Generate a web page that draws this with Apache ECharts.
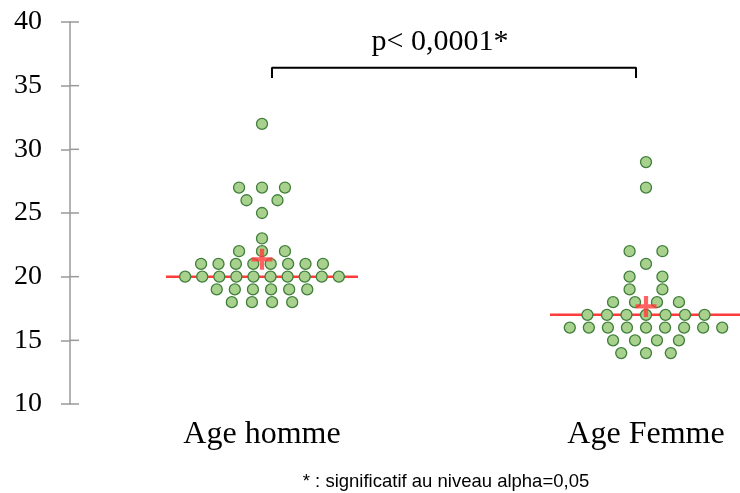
<!DOCTYPE html>
<html>
<head>
<meta charset="utf-8">
<script src="https://cdn.jsdelivr.net/npm/echarts@6/dist/echarts.min.js"></script>
<style>html,body{margin:0;padding:0;background:#fff}#c{width:740px;height:493px}</style>
</head>
<body>
<div id="c"></div>
<script>
// ---- data ----
const categories = ['Age homme', 'Age Femme'];
const ageHomme = [32, 27, 27, 27, 26, 26, 25, 23, 22, 22, 22,
  21, 21, 21, 21, 21, 21, 21, 21,
  20, 20, 20, 20, 20, 20, 20, 20, 20, 20,
  19, 19, 19, 19, 19, 19,
  18, 18, 18, 18];
const ageFemme = [29, 27, 22, 22, 21, 20, 20, 19, 19,
  18, 18, 18, 18,
  17, 17, 17, 17, 17, 17, 17,
  16, 16, 16, 16, 16, 16, 16, 16, 16,
  15, 15, 15, 15,
  14, 14, 14];
const yTicks = [10, 15, 20, 25, 30, 35, 40];
const pText = 'p< 0,0001*';
const footnote = '* : significatif au niveau alpha=0,05';

// ---- layout helpers ----
const gridLeft = 70, gridWidth = 670;
const pxPerUnit = 384;
const xMin = 0.5, xMax = xMin + gridWidth / pxPerUnit;

function swarm(values, center) {
  const counts = {};
  values.forEach(v => { counts[v] = (counts[v] || 0) + 1; });
  const maxN = Math.max(...Object.values(counts));
  const pts = [];
  Object.keys(counts).forEach(k => {
    const n = counts[k];
    const sp = 165 / maxN + 58 / (n * n);
    for (let i = 0; i < n; i++) {
      const off = (i - (n - 1) / 2) * sp;
      pts.push([center + off / pxPerUnit, Number(k)]);
    }
  });
  return pts;
}
function median(a) {
  const s = [...a].sort((x, y) => x - y);
  const m = Math.floor(s.length / 2);
  return s.length % 2 ? s[m] : (s[m - 1] + s[m]) / 2;
}
function mean(a) { return a.reduce((p, c) => p + c, 0) / a.length; }

const groups = [ageHomme, ageFemme];
const dots = [];
groups.forEach((g, i) => swarm(g, i + 1).forEach(p => dots.push(p)));
const means = groups.map((g, i) => [i + 1, mean(g)]);

const medianSeries = groups.map((g, i) => ({
  type: 'line', xAxisIndex: 0, yAxisIndex: 0, silent: true, symbol: 'none',
  data: [[i + 1 - 0.25, median(g)], [i + 1 + 0.25, median(g)]],
  lineStyle: { color: '#ff3b3b', width: 2.5 }, z: 2
}));

const bracket = [[1.026, 35.6], [1.026, 36.4], [1.974, 36.4], [1.974, 35.6]];

const chart = echarts.init(document.getElementById('c'), null, { renderer: 'canvas' });
chart.setOption({
  animation: false,
  grid: { left: gridLeft, width: gridWidth, top: 22, bottom: 89 },
  xAxis: [
    { type: 'value', min: xMin, max: xMax,
      axisLine: { show: false }, axisTick: { show: false }, splitLine: { show: false },
      axisLabel: { show: true, customValues: [1, 2], formatter: v => categories[Math.round(v) - 1] || '',
        fontFamily: 'Liberation Serif', fontSize: 32, color: '#000', margin: 15 } }
  ],
  yAxis: [
    { type: 'value', min: 10, max: 40, interval: 5,
      axisLine: { show: true, lineStyle: { color: '#999', width: 1.5 } },
      axisTick: { show: true, length: 9, lineStyle: { color: '#999', width: 1.5 } },
      splitLine: { show: false },
      axisLabel: { fontFamily: 'Liberation Serif', fontSize: 28, color: '#000', margin: 28 } }
  ],
  series: [
    ...medianSeries,
    { type: 'scatter', xAxisIndex: 0, yAxisIndex: 0, data: dots, symbol: 'circle', symbolSize: 11,
      itemStyle: { color: '#a9d18e', borderColor: '#3f7f3a', borderWidth: 1.3, opacity: 1 }, z: 3 },
    { type: 'scatter', xAxisIndex: 0, yAxisIndex: 0, data: means,
      symbol: 'path://M8,0H12V8H20V12H12V20H8V12H0V8H8Z', symbolSize: 21,
      itemStyle: { color: '#ff3b3b' }, z: 4 },
    { type: 'line', xAxisIndex: 0, yAxisIndex: 0, data: bracket, symbol: 'none', silent: true,
      lineStyle: { color: '#000', width: 2 }, z: 5 }
  ],
  graphic: [
    { type: 'text', style: { x: 440, y: 42, text: pText, font: '30px "Liberation Serif"', fill: '#000',
      textAlign: 'center', textVerticalAlign: 'middle' } },
    { type: 'text', style: { x: 446, y: 482, text: footnote, font: '18.5px "Liberation Sans"', fill: '#000',
      textAlign: 'center', textVerticalAlign: 'middle' } }
  ]
});

// inner half of the crossing y-axis ticks, positioned through the axis scale
const innerTicks = yTicks.map((v, i) => {
  const p = chart.convertToPixel({ xAxisIndex: 0, yAxisIndex: 0 }, [xMin, v]);
  return { type: 'line', id: 'itick' + i, z: 10,
    shape: { x1: p[0], y1: p[1], x2: p[0] + 9, y2: p[1] },
    style: { stroke: '#999', lineWidth: 1.5 } };
});
chart.setOption({ graphic: innerTicks });
</script>
</body>
</html>
